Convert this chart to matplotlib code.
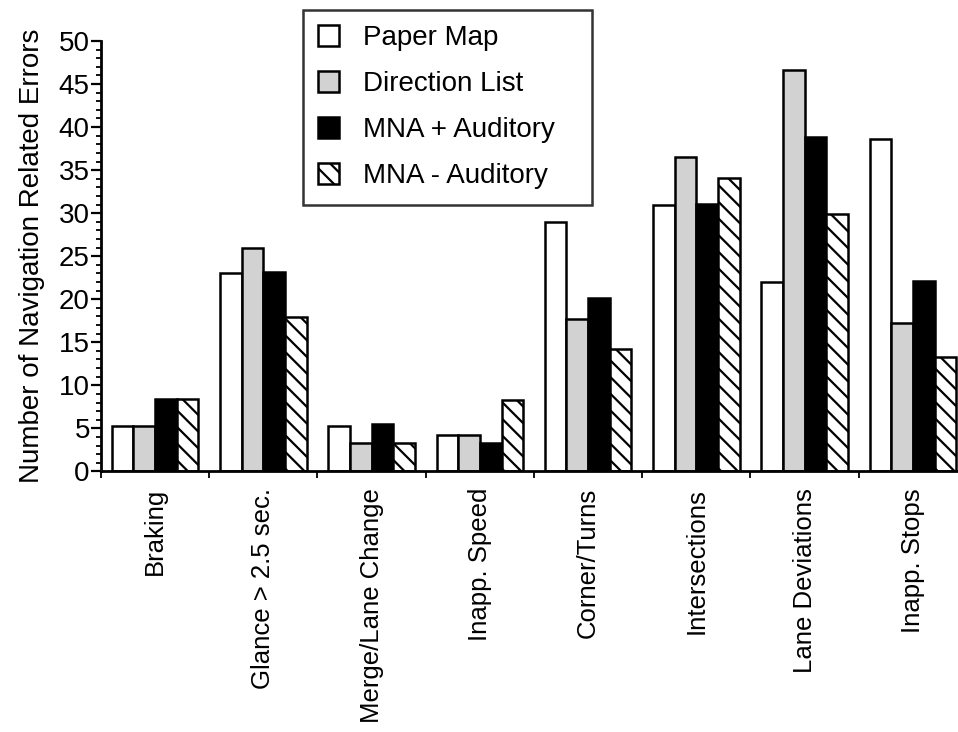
import numpy as np
import matplotlib
matplotlib.use('Agg')
import matplotlib.pyplot as plt
from matplotlib.ticker import MultipleLocator, FixedLocator, NullFormatter

plt.rcParams['font.family'] = ['Liberation Sans', 'DejaVu Sans']
plt.rcParams['hatch.linewidth'] = 1.6

categories = ['Braking', 'Glance > 2.5 sec.', 'Merge/Lane Change', 'Inapp. Speed',
              'Corner/Turns', 'Intersections', 'Lane Deviations', 'Inapp. Stops']
paper_map = [5.3, 23.0, 5.3, 4.2, 29.0, 31.0, 22.0, 38.6]
direction_list = [5.3, 26.0, 3.3, 4.2, 17.7, 36.5, 46.6, 17.2]
mna_aud = [8.4, 23.2, 5.5, 3.35, 20.1, 31.1, 38.9, 22.1]
mna_noaud = [8.4, 17.9, 3.3, 8.3, 14.2, 34.1, 29.9, 13.3]

series = [('Paper Map', paper_map), ('Direction List', direction_list),
          ('MNA + Auditory', mna_aud), ('MNA - Auditory', mna_noaud)]
styles = [dict(color='white'), dict(color='#d2d2d2'),
          dict(color='black'), dict(color='white', hatch='\\\\')]

fs = 20
fig = plt.figure(figsize=(9.58, 7.32), dpi=100)
ax = fig.add_axes([0.1054, 0.356, 0.904, 0.588])

x = np.arange(len(categories))
w = 0.2
for i, ((name, vals), st) in enumerate(zip(series, styles)):
    ax.bar(x + 0.1 + i * w, vals, width=w, align='edge', edgecolor='black',
           linewidth=1.8, label=name, **st)

ax.set_xlim(0, len(categories))
ax.set_ylim(0, 50)
ax.yaxis.set_major_locator(MultipleLocator(5))
ax.yaxis.set_minor_locator(MultipleLocator(1))
ax.tick_params(axis='y', which='major', direction='out', length=7, width=1.6,
               labelsize=fs, pad=1)
ax.tick_params(axis='y', which='minor', direction='out', length=3.5, width=1.3)

# group boundaries get the tick marks, names sit under the group centres
ax.xaxis.set_major_locator(FixedLocator(np.arange(len(categories) + 1)))
ax.xaxis.set_major_formatter(NullFormatter())
ax.xaxis.set_minor_locator(FixedLocator(x + 0.5))
ax.set_xticklabels(categories, minor=True, rotation=90, fontsize=18.5)
ax.tick_params(axis='x', which='major', direction='out', length=5, width=1.3)
ax.tick_params(axis='x', which='minor', length=0, pad=12)

for s in ['top', 'right']:
    ax.spines[s].set_visible(False)
for s in ['left', 'bottom']:
    ax.spines[s].set_linewidth(2.0)

ax.set_ylabel('Number of Navigation Related Errors', fontsize=fs, labelpad=10)

leg = fig.legend(loc='upper left',
                 bbox_to_anchor=(303 / 958, 1 - 10 / 732, 289 / 958, 0.0),
                 mode='expand', fontsize=fs, frameon=True, fancybox=False,
                 handlelength=0.75, handleheight=0.75, handletextpad=0.85,
                 labelspacing=0.72, borderpad=0.55, borderaxespad=0)
leg.get_frame().set_edgecolor('black')
leg.get_frame().set_linewidth(1.8)

fig.savefig('out.png', dpi=100)
